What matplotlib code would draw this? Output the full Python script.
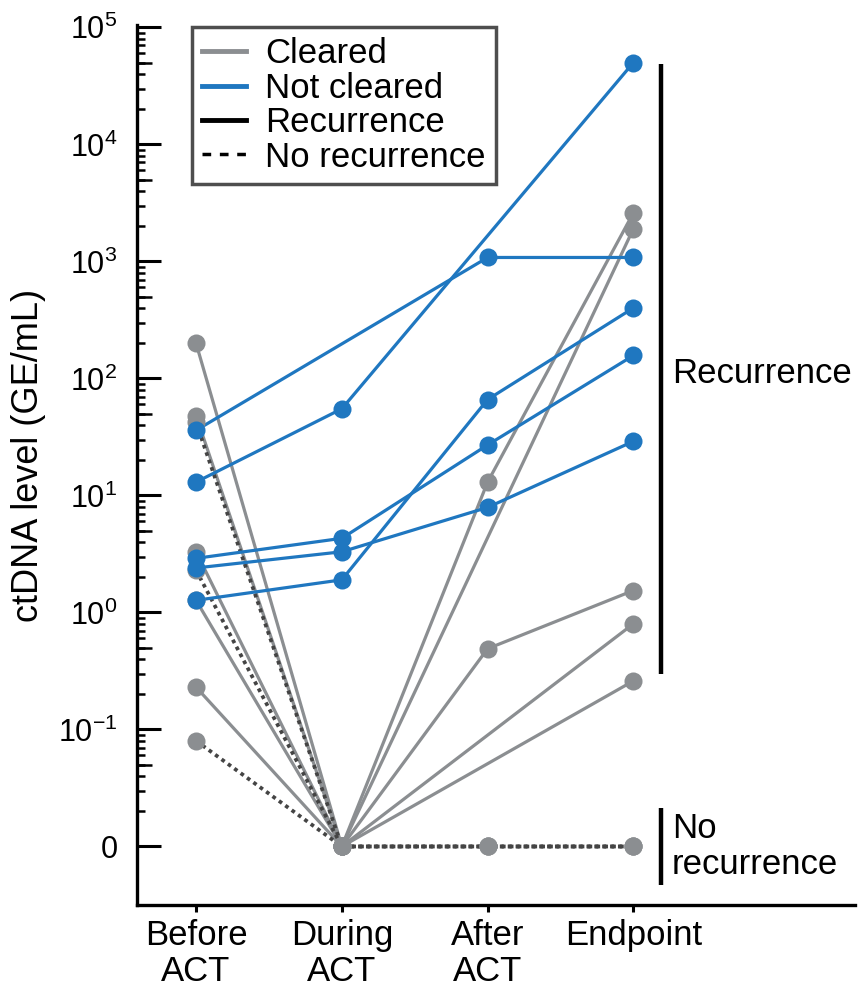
import numpy as np
import matplotlib
matplotlib.use("Agg")
import matplotlib.pyplot as plt
from matplotlib.lines import Line2D
from matplotlib.ticker import FixedLocator, NullFormatter

plt.rcParams['font.family'] = ['Liberation Sans', 'DejaVu Sans']
plt.rcParams['mathtext.fontset'] = 'custom'
plt.rcParams['mathtext.rm'] = 'Liberation Sans'
plt.rcParams['mathtext.it'] = 'Liberation Sans:italic'
plt.rcParams['mathtext.bf'] = 'Liberation Sans:bold'

# ---- data (GE/mL), NaN = no sample at that time point, 0 = undetectable ----
timepoints = ["Before\nACT", "During\nACT", "After\nACT", "Endpoint"]
nan = np.nan

not_cleared = [
    [36, nan, 1080, 1080],
    [13, 55, nan, 50000],
    [2.9, 4.3, 27, 157],
    [2.4, 3.3, 7.9, 29],
    [1.27, 1.9, 66, 400],
]
cleared_recurrence = [
    [200, 0, 13, 2600],
    [48, 0, nan, 1900],
    [3.3, 0, 0.49, 1.54],
    [1.27, 0, nan, 0.8],
    [0.23, 0, nan, 0.26],
]
cleared_no_recurrence = [
    [42, 0, 0, 0],
    [2.3, 0, 0, 0],
    [0.08, 0, 0, 0],
]

decades = [-2, -1, 0, 1, 2, 3, 4, 5]
ytick_labels = ["0"] + [r"$\mathregular{10^{%d}}$" % d for d in decades[1:]]

GRAY = "#8b8e91"
BLUE = "#1f77c0"
DARK = "#444444"
ZERO = 1e-2   # where "0" sits on the log axis
FS = 25


def to_plot(vals):
    v = np.array(vals, dtype=float)
    v[v == 0] = ZERO
    return v


W, H = 860, 997
fig = plt.figure(figsize=(W / 100, H / 100), dpi=100)
ax = fig.add_axes([137 / W, 1 - 905 / H, (855 - 137) / W, (905 - 25) / H])

x = np.arange(len(timepoints))
ms = 13

# lines
for vals in cleared_recurrence:
    y = to_plot(vals)
    m = ~np.isnan(y)
    ax.plot(x[m], y[m], color=GRAY, lw=2.3, zorder=2)
for vals in cleared_no_recurrence:
    y = to_plot(vals)
    m = ~np.isnan(y)
    ax.plot(x[m], y[m], color=DARK, lw=2.7, ls=(0, (1, 1.1)), zorder=2.5)
for vals in not_cleared:
    y = to_plot(vals)
    m = ~np.isnan(y)
    ax.plot(x[m], y[m], color=BLUE, lw=2.3, zorder=3)

# markers
for vals in cleared_recurrence + cleared_no_recurrence:
    y = to_plot(vals)
    ax.plot(x, y, ls="none", marker="o", ms=ms, color=GRAY, mec="none", zorder=4)
for vals in not_cleared:
    y = to_plot(vals)
    ax.plot(x, y, ls="none", marker="o", ms=ms, color=BLUE, mec="none", zorder=5)

# axes
ax.set_yscale("log")
ax.set_ylim(10 ** -2.5, 10 ** 5.02)
ax.set_xlim(-0.405, 4.52)
ax.set_xticks(x)
ax.set_xticklabels(timepoints, fontsize=FS, linespacing=1.12)
ax.yaxis.set_major_locator(FixedLocator([10.0 ** d for d in decades]))
ax.set_yticklabels(ytick_labels, fontsize=22)
minor = [s * 10.0 ** d for d in decades[:-1] for s in range(2, 10)]
ax.yaxis.set_minor_locator(FixedLocator(minor))
ax.yaxis.set_minor_formatter(NullFormatter())

for s in ["top", "right"]:
    ax.spines[s].set_visible(False)
for s in ["left", "bottom"]:
    ax.spines[s].set_linewidth(2.4)

ax.tick_params(axis="y", which="major", direction="in", length=17, width=2.2, pad=14)
ax.tick_params(axis="y", which="minor", direction="in", length=6, width=1.8)
ax.tick_params(axis="x", direction="out", length=5, width=2.2, pad=5)

# the 5x minor ticks are drawn longer
ax_w = (855 - 137)
for d in decades[:-1]:
    ax.plot([0, 15 / ax_w], [5 * 10.0 ** d] * 2, transform=ax.get_yaxis_transform(),
            color="black", lw=1.8, solid_capstyle="butt", clip_on=False, zorder=6)

ax.set_ylabel("ctDNA level (GE/mL)", fontsize=26)
ax.yaxis.set_label_coords((46 - 137) / ax_w, (905 - 455) / 880)

# recurrence brackets on the right
rec_ends = [v[-1] for v in not_cleared + cleared_recurrence]
bx = 3.19
ax.plot([bx, bx], [max(rec_ends) * 0.98, min(rec_ends) * 1.15], color="black", lw=3.2,
        solid_capstyle="butt", clip_on=False)
ax.text(bx + 0.075, 10 ** 2.04, "Recurrence", fontsize=FS, va="center", ha="left")
ax.plot([bx, bx], [ZERO * 10 ** 0.33, ZERO * 10 ** -0.33], color="black", lw=3.2,
        solid_capstyle="butt", clip_on=False)
ax.text(bx + 0.075, ZERO, "No\nrecurrence", fontsize=FS, va="center", ha="left",
        linespacing=1.12)

# legend
handles = [
    Line2D([], [], color=GRAY, lw=3.5),
    Line2D([], [], color=BLUE, lw=3.5),
    Line2D([], [], color="black", lw=3.5),
    Line2D([], [], color="black", lw=2.5, ls=(0, (2.5, 2.5))),
]
labels = ["Cleared", "Not cleared", "Recurrence", "No recurrence"]
leg = ax.legend(handles, labels, loc="upper left", bbox_to_anchor=(192 / W, 1 - 27 / H),
                bbox_transform=fig.transFigure, fontsize=FS, frameon=True, fancybox=False,
                edgecolor="#222222", handlelength=1.25, handletextpad=0.55,
                labelspacing=0.04, borderpad=0.3, borderaxespad=0)
leg.get_frame().set_linewidth(2.5)
leg.set_zorder(10)

fig.savefig("out.png", dpi=100)
